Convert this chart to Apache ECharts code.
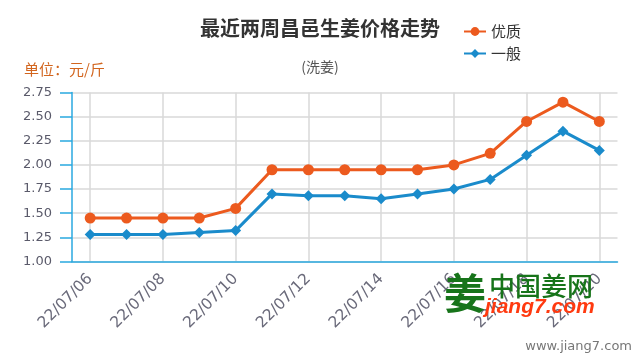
<!DOCTYPE html>
<html>
<head>
<meta charset="utf-8">
<script src="https://cdn.jsdelivr.net/npm/echarts@6/dist/echarts.min.js"></script>
<style>html,body{margin:0;padding:0;background:#fff;}#main{width:640px;height:360px;}</style>
</head>
<body>
<div id="main"></div>
<script>
var categories = ['22/07/06','22/07/07','22/07/08','22/07/09','22/07/10','22/07/11','22/07/12','22/07/13','22/07/14','22/07/15','22/07/16','22/07/17','22/07/18','22/07/19','22/07/20'];
var premium = [1.45,1.45,1.45,1.45,1.55,1.95,1.95,1.95,1.95,1.95,2.00,2.12,2.45,2.65,2.45];
var ordinary = [1.28,1.28,1.28,1.30,1.32,1.70,1.68,1.68,1.65,1.70,1.75,1.85,2.10,2.35,2.15];
var seriesNames = ['优质','一般'];
var yTicks = {min: 1, max: 2.75, interval: 0.25};

var axisBlue = '#2aa9e0';
var font = 'DejaVu Sans, sans-serif';
var cjk = '"Noto Sans CJK SC", sans-serif';

var chart = echarts.init(document.getElementById('main'), null, {renderer: 'canvas'});
chart.setOption({
  animation: false,
  backgroundColor: '#fff',
  title: [
    {text: '最近两周昌邑生姜价格走势', left: 'center', top: 13,
     textStyle: {fontSize: 20, fontWeight: 'bold', color: '#333', fontFamily: cjk}},
    {text: '(洗姜)', left: 'center', top: 55,
     textStyle: {fontSize: 14, fontWeight: 'normal', color: '#555', fontFamily: cjk}},
    {text: '单位：元/斤', left: 19, top: 57,
     textStyle: {fontSize: 15, fontWeight: 'normal', color: '#d2651e', fontFamily: cjk}}
  ],
  legend: {
    orient: 'vertical', left: 458, top: 19, itemGap: 7,
    itemWidth: 22, itemHeight: 11,
    textStyle: {fontSize: 15, color: '#333', fontFamily: cjk},
    data: seriesNames
  },
  grid: {left: 72, right: 22.5, top: 92.5, bottom: 98.5, containLabel: false},
  xAxis: {
    type: 'category', data: categories, boundaryGap: true,
    axisLine: {lineStyle: {color: axisBlue, width: 1.5}},
    axisTick: {alignWithLabel: true, interval: 1, length: 12, lineStyle: {color: axisBlue, width: 1.5}},
    axisLabel: {interval: 1, rotate: 45, margin: 15, fontSize: 15.5, color: '#6a6a7a', fontFamily: font},
    splitLine: {show: true, interval: 1, alignWithLabel: true, lineStyle: {color: '#d9d9d9', width: 1.5}}
  },
  yAxis: {
    type: 'value', min: yTicks.min, max: yTicks.max, interval: yTicks.interval,
    axisLine: {show: true, lineStyle: {color: axisBlue, width: 1.5}},
    axisTick: {show: true, length: 12, lineStyle: {color: axisBlue, width: 1.5}},
    axisLabel: {margin: 20, fontSize: 13, color: '#5a5a6a', fontFamily: font,
      formatter: function (v) { return v.toFixed(2); }},
    splitLine: {show: true, lineStyle: {color: '#d9d9d9', width: 1.5}}
  },
  series: [
    {name: seriesNames[0], type: 'line', data: premium, symbol: 'circle', symbolSize: 11,
     itemStyle: {color: '#ec5a1e'}, lineStyle: {color: '#ec5a1e', width: 3}, z: 3},
    {name: seriesNames[1], type: 'line', data: ordinary, symbol: 'diamond', symbolSize: 11,
     itemStyle: {color: '#1a8bcb'}, lineStyle: {color: '#1a8bcb', width: 3}, z: 2}
  ],
  graphic: [
    {type: 'text', z: 100, style: {x: 444, y: 293, text: '姜', font: 'bold 42px "Noto Sans CJK SC"', fill: '#17741a', verticalAlign: 'middle'}},
    {type: 'text', z: 100, style: {x: 489, y: 286, text: '中国姜网', font: '500 26px "Noto Sans CJK SC"', fill: '#17741a', verticalAlign: 'middle'}},
    {type: 'text', z: 100, style: {x: 485, y: 307, text: 'jiang7.com', font: 'italic bold 21px "Liberation Sans"', fill: '#ff3a10', verticalAlign: 'middle'}},
    {type: 'text', z: 100, style: {x: 632, y: 347, text: 'www.jiang7.com', font: '13px "DejaVu Sans"', fill: '#777', align: 'right', verticalAlign: 'middle'}}
  ]
});
</script>
</body>
</html>
